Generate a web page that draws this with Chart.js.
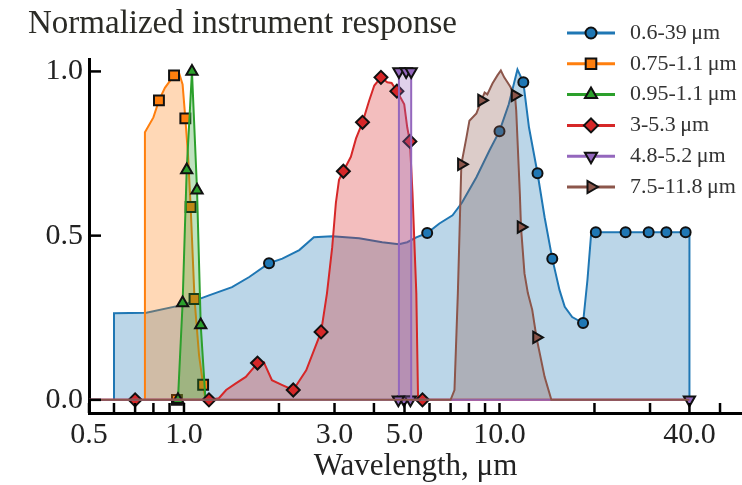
<!DOCTYPE html>
<html>
<head>
<meta charset="utf-8">
<script src="https://cdn.jsdelivr.net/npm/chart.js@4.4.1/dist/chart.umd.min.js"></script>
<style>
  html, body { margin: 0; padding: 0; background: #fff; }
  #wrap { width: 742px; height: 485px; position: relative; }
</style>
</head>
<body>
<div id="wrap"><canvas id="responseChart"></canvas></div>
<script>
// wavelength in µm against normalized response
const blueX = [0.6, 0.6, 0.76, 1.0, 1.2, 1.42, 1.61, 1.86, 2.05, 2.32, 2.58, 2.95, 3.59, 4.25, 4.8, 5.1, 5.45, 5.9,
    6.45, 7.1, 7.6, 8.45, 9.3, 10.0, 10.7, 11.4, 11.9, 12.4, 13.2, 13.9, 14.7, 15.5, 16.1, 17.0, 18.4, 19.0, 19.5,
    20.2, 25.1, 29.7, 33.8, 38.9, 40.0, 40.0];
const blueY = [0, 0.264, 0.265, 0.29, 0.318, 0.343, 0.374, 0.416, 0.43, 0.456, 0.495, 0.498, 0.492, 0.48, 0.474, 0.48,
    0.495, 0.508, 0.537, 0.562, 0.6, 0.678, 0.76, 0.818, 0.9, 1.006, 0.967, 0.83, 0.69, 0.556, 0.43, 0.334, 0.283,
    0.252, 0.234, 0.365, 0.5, 0.51, 0.51, 0.51, 0.51, 0.51, 0.51, 0];
const blueMarks = [7, 17, 23, 26, 28, 30, 34, 37, 38, 39, 40, 41];

const orangeX = [0.752, 0.752, 0.8, 0.833, 0.87, 0.93, 0.965, 0.99, 1.01, 1.03, 1.05, 1.08, 1.116, 1.15, 1.17];
const orangeY = [0, 0.815, 0.86, 0.912, 0.95, 0.988, 0.995, 0.96, 0.857, 0.745, 0.587, 0.307, 0.137, 0.046, 0];
const orangeMarks = [3, 5, 8, 10, 11, 13];
const orangeBaseX = [0.95];

const greenX = [0.957, 0.99, 1.02, 1.06, 1.1, 1.13, 1.17];
const greenY = [0, 0.295, 0.7, 1.0, 0.638, 0.228, 0];
const greenMarks = [0, 1, 2, 3, 4, 5];

const redX = [0.5, 0.7, 1.2, 1.29, 1.36, 1.46, 1.57, 1.71, 1.79, 1.9, 2.05, 2.22, 2.44, 2.72, 2.84, 2.95, 3.03, 3.1,
    3.2, 3.38, 3.51, 3.68, 3.86, 4.01, 4.21, 4.41, 4.55, 4.73, 4.99, 5.1, 5.2, 5.3, 5.45, 5.52, 5.7, 40];
const redY = [0, 0, 0, 0.005, 0.03, 0.05, 0.07, 0.112, 0.115, 0.06, 0.045, 0.03, 0.09, 0.207, 0.325, 0.465, 0.6, 0.67,
    0.696, 0.74, 0.796, 0.845, 0.91, 0.957, 0.982, 0.967, 0.965, 0.94, 0.9, 0.83, 0.787, 0.63, 0.325, 0, 0, 0];
const redMarks = [1, 2, 7, 11, 13, 18, 21, 24, 27, 30, 34];

const purpleX = [0.5, 4.78, 4.8, 4.8, 5.06, 5.25, 5.25, 40];
const purpleY = [0, 0, 0, 1.0, 1.0, 1.0, 0, 0];
const purpleMarks = [1, 3, 4, 5, 7];
const purpleBaseX = [4.98, 5.22];

const brownX = [0.5, 7.0, 7.2, 7.38, 7.47, 7.57, 7.86, 8.03, 8.45, 8.77, 8.97, 9.15, 9.5, 9.85, 10.1, 10.35, 10.8, 11.2,
    11.3, 11.6, 11.7, 12.0, 12.3, 12.7, 13.1, 13.9, 14.4, 14.6, 40];
const brownY = [0, 0, 0.03, 0.325, 0.508, 0.717, 0.8, 0.85, 0.872, 0.912, 0.936, 0.93, 0.963, 0.988, 1.003, 0.982,
    0.955, 0.927, 0.88, 0.63, 0.526, 0.385, 0.325, 0.274, 0.19, 0.07, 0.02, 0, 0];
const brownMarks = [5, 9, 17, 20, 24];

const seriesLabels = ["0.6-39\u2009μm", "0.75-1.1\u2009μm", "0.95-1.1\u2009μm", "3-5.3\u2009μm", "4.8-5.2\u2009μm", "7.5-11.8\u2009μm"];
const xTickValues = [0.5, 0.6, 0.7, 0.8, 0.9, 1, 2, 3, 4, 5, 6, 7, 8, 9, 10, 20, 30, 40, 50];
const xTickLabels = [0.5, 1, 3, 5, 10, 40];
const yTickValues = [0, 0.5, 1];

const serif = "'Liberation Serif', 'Times New Roman', serif";
const inkColor = "#222";

const styles = [
    { color: "#1f77b4", shape: "circle", radius: 5, rotation: 0 },
    { color: "#ff7f0e", shape: "rect", radius: 7, rotation: 0 },
    { color: "#2ca02c", shape: "triangle", radius: 6.5, rotation: 0 },
    { color: "#d62728", shape: "rectRot", radius: 6.5, rotation: 0 },
    { color: "#9467bd", shape: "triangle", radius: 6.5, rotation: 180 },
    { color: "#8c564b", shape: "triangle", radius: 6.5, rotation: 90 },
];

function fade(hex, alpha) {
    const n = parseInt(hex.slice(1), 16);
    return `rgba(${(n >> 16) & 255}, ${(n >> 8) & 255}, ${n & 255}, ${alpha})`;
}

function lineSet(label, xs, ys, marks, style, order) {
    return {
        label: label,
        data: xs.map((x, i) => ({ x: x, y: ys[i] })),
        borderColor: style.color,
        backgroundColor: fade(style.color, 0.3),
        fill: "origin",
        borderWidth: 2,
        tension: 0,
        pointStyle: style.shape,
        pointRotation: style.rotation,
        pointRadius: xs.map((_, i) => (marks.includes(i) ? style.radius : 0)),
        pointHoverRadius: 0,
        pointBackgroundColor: style.color,
        pointBorderColor: "#111",
        pointBorderWidth: 2,
        order: order,
    };
}

function baseMarkers(xs, style, order) {
    return {
        label: "",
        data: xs.map((x) => ({ x: x, y: 0 })),
        showLine: false,
        fill: false,
        pointStyle: style.shape,
        pointRotation: style.rotation,
        pointRadius: style.radius,
        pointBackgroundColor: style.color,
        pointBorderColor: "#111",
        pointBorderWidth: 2,
        order: order,
    };
}

const inwardTicks = {
    id: "inwardTicks",
    afterDatasetsDraw(chart) {
        const { ctx, chartArea, scales } = chart;
        ctx.save();
        ctx.strokeStyle = "#000";
        ctx.lineWidth = 2.5;
        xTickValues.forEach((v) => {
            const px = scales.x.getPixelForValue(v);
            ctx.beginPath();
            ctx.moveTo(px, chartArea.bottom);
            ctx.lineTo(px, chartArea.bottom - 10);
            ctx.stroke();
        });
        yTickValues.forEach((v) => {
            const py = scales.y.getPixelForValue(v);
            ctx.beginPath();
            ctx.moveTo(chartArea.left, py);
            ctx.lineTo(chartArea.left + 12, py);
            ctx.stroke();
        });
        ctx.restore();
    },
};

const markerLegend = {
    id: "markerLegend",
    afterDraw(chart) {
        const ctx = chart.ctx;
        ctx.save();
        seriesLabels.forEach((label, i) => {
            const st = styles[i];
            const y = 33 + i * 30.8;
            ctx.strokeStyle = st.color;
            ctx.lineWidth = 3;
            ctx.beginPath();
            ctx.moveTo(567, y);
            ctx.lineTo(615, y);
            ctx.stroke();
            ctx.fillStyle = st.color;
            ctx.strokeStyle = "#111";
            ctx.lineWidth = 2;
            Chart.helpers.drawPoint(ctx, { pointStyle: st.shape, radius: st.radius + 0.5, rotation: st.rotation, borderWidth: 2 }, 591, y);
            ctx.fillStyle = "#333";
            ctx.font = "22px " + serif;
            ctx.textAlign = "left";
            ctx.textBaseline = "middle";
            ctx.fillText(label, 630, y);
        });
        ctx.restore();
    },
};

function buildChart() {
    const canvas = document.getElementById("responseChart");
    const ctx = canvas.getContext("2d");
    const tickFont = { family: serif, size: 30 };

    new Chart(ctx, {
        type: "line",
        data: {
            datasets: [
                lineSet(seriesLabels[0], blueX, blueY, blueMarks, styles[0], 6),
                lineSet(seriesLabels[1], orangeX, orangeY, orangeMarks, styles[1], 5),
                lineSet(seriesLabels[2], greenX, greenY, greenMarks, styles[2], 4),
                lineSet(seriesLabels[3], redX, redY, redMarks, styles[3], 3),
                lineSet(seriesLabels[4], purpleX, purpleY, purpleMarks, styles[4], 2),
                lineSet(seriesLabels[5], brownX, brownY, brownMarks, styles[5], 1),
                baseMarkers(orangeBaseX, styles[1], 5),
                baseMarkers(purpleBaseX, styles[4], 2),
            ],
        },
        options: {
            responsive: true,
            maintainAspectRatio: false,
            animation: false,
            layout: { autoPadding: false, padding: { left: 28, right: 0, top: 0, bottom: 0 } },
            scales: {
                x: {
                    type: "logarithmic",
                    min: 0.5,
                    max: 58.7,
                    afterBuildTicks: (scale) => {
                        scale.ticks = xTickValues.map((v) => ({ value: v }));
                    },
                    afterFit: (scale) => {
                        scale.height = 72;
                        scale.paddingLeft = 0;
                        scale.paddingRight = 0;
                    },
                    ticks: {
                        autoSkip: false,
                        maxRotation: 0,
                        padding: 4,
                        font: tickFont,
                        color: inkColor,
                        callback: (v) => (xTickLabels.includes(v) ? Number(v).toFixed(1) : ""),
                    },
                    grid: { display: false, drawTicks: false },
                    border: { display: true, color: "#000", width: 3 },
                    title: {
                        display: true,
                        text: "Wavelength, μm",
                        font: { family: serif, size: 31 },
                        color: inkColor,
                        padding: { top: 0, bottom: 0 },
                    },
                },
                y: {
                    min: -0.04,
                    max: 1.036,
                    afterBuildTicks: (scale) => {
                        scale.ticks = yTickValues.map((v) => ({ value: v }));
                    },
                    afterFit: (scale) => {
                        scale.width = 61;
                    },
                    ticks: {
                        padding: 6,
                        font: tickFont,
                        color: inkColor,
                        callback: (v) => Number(v).toFixed(1),
                    },
                    grid: { display: false, drawTicks: false },
                    border: { display: true, color: "#000", width: 3 },
                },
            },
            plugins: {
                legend: { display: false },
                tooltip: { enabled: false },
                title: {
                    display: true,
                    text: "Normalized instrument response",
                    align: "start",
                    color: "#2b2b26",
                    font: { family: serif, size: 33, weight: "normal" },
                    padding: { top: 5, bottom: 15 },
                },
            },
        },
        plugins: [inwardTicks, markerLegend],
    });
}

document.addEventListener("DOMContentLoaded", () => {
    buildChart();
});
</script>
</body>
</html>
